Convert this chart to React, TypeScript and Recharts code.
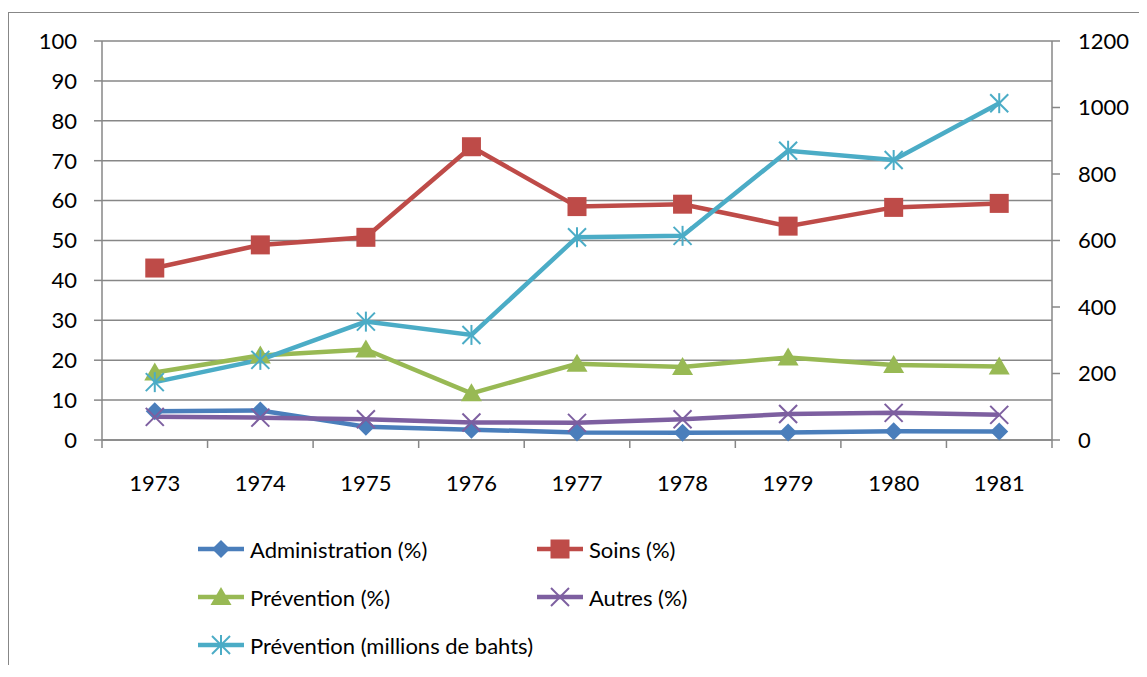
import React from 'react';
import { LineChart, Line, XAxis, YAxis, CartesianGrid, Legend } from 'recharts';

const years = ['1973', '1974', '1975', '1976', '1977', '1978', '1979', '1980', '1981'];
const administration = [7.2, 7.4, 3.3, 2.6, 1.9, 1.8, 1.9, 2.2, 2.1];
const soins = [43.1, 48.9, 50.8, 73.5, 58.5, 59.1, 53.6, 58.3, 59.3];
const preventionPct = [16.9, 21.2, 22.7, 11.7, 19.1, 18.3, 20.7, 18.8, 18.4];
const autres = [5.8, 5.6, 5.2, 4.4, 4.3, 5.2, 6.5, 6.8, 6.3];
const preventionBahts = [174, 241, 356, 316, 610, 614, 870, 842, 1013];

const leftTicks = [0, 10, 20, 30, 40, 50, 60, 70, 80, 90, 100];
const rightTicks = [0, 200, 400, 600, 800, 1000, 1200];

const data = years.map((year, i) => ({
  year,
  administration: administration[i],
  soins: soins[i],
  preventionPct: preventionPct[i],
  autres: autres[i],
  preventionBahts: preventionBahts[i],
}));

const FONT = 'Lato, "Open Sans", sans-serif';
const AXIS_COLOR = '#878787';
const TICK_SIZE = 8;
const X_TICK_MARGIN = 27;
// half of one category slot (plot width 950 / 9 categories / 2)
const HALF_SLOT = 950 / years.length / 2;

type MarkerKind = 'diamond' | 'square' | 'triangle' | 'x' | 'star';

function Marker({ kind, cx, cy, color }: { kind: MarkerKind; cx: number; cy: number; color: string }) {
  if (kind === 'diamond') {
    return <polygon points={`${cx},${cy - 9} ${cx + 9},${cy} ${cx},${cy + 9} ${cx - 9},${cy}`} fill={color} />;
  }
  if (kind === 'square') {
    return <rect x={cx - 9.5} y={cy - 9.5} width={19} height={19} fill={color} />;
  }
  if (kind === 'triangle') {
    return <polygon points={`${cx},${cy - 10} ${cx + 10.5},${cy + 8} ${cx - 10.5},${cy + 8}`} fill={color} />;
  }
  if (kind === 'x') {
    return (
      <g stroke={color} strokeWidth={2}>
        <line x1={cx - 9} y1={cy - 9} x2={cx + 9} y2={cy + 9} />
        <line x1={cx - 9} y1={cy + 9} x2={cx + 9} y2={cy - 9} />
      </g>
    );
  }
  return (
    <g stroke={color} strokeWidth={2}>
      <line x1={cx - 9} y1={cy - 9} x2={cx + 9} y2={cy + 9} />
      <line x1={cx - 9} y1={cy + 9} x2={cx + 9} y2={cy - 9} />
      <line x1={cx} y1={cy - 10} x2={cx} y2={cy + 10} />
    </g>
  );
}

const series: { key: string; name: string; color: string; marker: MarkerKind; axis: string }[] = [
  { key: 'administration', name: 'Administration (%)', color: '#4A7EBB', marker: 'diamond', axis: 'left' },
  { key: 'soins', name: 'Soins (%)', color: '#BE4B48', marker: 'square', axis: 'left' },
  { key: 'preventionPct', name: 'Prévention (%)', color: '#98B954', marker: 'triangle', axis: 'left' },
  { key: 'autres', name: 'Autres (%)', color: '#7D5FA0', marker: 'x', axis: 'left' },
  { key: 'preventionBahts', name: 'Prévention (millions de bahts)', color: '#4BACC6', marker: 'star', axis: 'right' },
];

function XTick(props: any) {
  const { x, y, payload, index } = props;
  const axisY = y - TICK_SIZE - X_TICK_MARGIN;
  return (
    <g>
      <line x1={x - HALF_SLOT} y1={axisY} x2={x - HALF_SLOT} y2={axisY + TICK_SIZE} stroke={AXIS_COLOR} strokeWidth={1.5} />
      {index === years.length - 1 && (
        <line x1={x + HALF_SLOT} y1={axisY} x2={x + HALF_SLOT} y2={axisY + TICK_SIZE} stroke={AXIS_COLOR} strokeWidth={1.5} />
      )}
      <text x={x} y={y} dy="0.71em" textAnchor="middle" fill="#000" fontSize={22} fontFamily={FONT}>
        {payload.value}
      </text>
    </g>
  );
}

function LegendContent() {
  const rows = [[series[0], series[1]], [series[2], series[3]], [series[4]]];
  return (
    <div style={{ height: 169, paddingTop: 25, paddingLeft: 189, boxSizing: 'border-box', fontFamily: FONT }}>
      {rows.map((row, r) => (
        <div key={r} style={{ display: 'flex', height: 48 }}>
          {row.map((s) => (
            <div key={s.key} style={{ width: 339, display: 'flex', alignItems: 'center' }}>
              <svg width={46} height={24} style={{ marginRight: 6 }}>
                <line x1={0} y1={12} x2={46} y2={12} stroke={s.color} strokeWidth={4.5} />
                <Marker kind={s.marker} cx={23} cy={12} color={s.color} />
              </svg>
              <span style={{ fontSize: 22, color: '#000' }}>{s.name}</span>
            </div>
          ))}
        </div>
      ))}
    </div>
  );
}

export default function App() {
  return (
    <div
      style={{
        position: 'relative',
        top: 4,
        width: 1130,
        height: 656,
        borderLeft: `1px solid ${AXIS_COLOR}`,
        borderTop: `1px solid ${AXIS_COLOR}`,
        background: '#fff',
      }}
    >
      <LineChart width={1130} height={656} data={data} margin={{ top: 28, right: 0, left: 0, bottom: 0 }}>
        <CartesianGrid yAxisId="left" vertical={false} stroke={AXIS_COLOR} strokeWidth={1.5} />
        <XAxis
          dataKey="year"
          height={60}
          padding={{ left: HALF_SLOT, right: HALF_SLOT }}
          tickLine={false}
          tickSize={TICK_SIZE}
          tickMargin={X_TICK_MARGIN}
          axisLine={{ stroke: AXIS_COLOR, strokeWidth: 1.5 }}
          tick={<XTick />}
          interval={0}
        />
        <YAxis
          yAxisId="left"
          width={93}
          domain={[0, 100]}
          ticks={leftTicks}
          interval={0}
          tickSize={TICK_SIZE}
          tickMargin={17}
          axisLine={{ stroke: AXIS_COLOR, strokeWidth: 1.5 }}
          tickLine={{ stroke: AXIS_COLOR, strokeWidth: 1.5 }}
          tick={{ fill: '#000', fontSize: 22, fontFamily: FONT }}
        />
        <YAxis
          yAxisId="right"
          orientation="right"
          width={87}
          domain={[0, 1200]}
          ticks={rightTicks}
          interval={0}
          tickSize={TICK_SIZE}
          tickMargin={18}
          axisLine={{ stroke: AXIS_COLOR, strokeWidth: 1.5 }}
          tickLine={{ stroke: AXIS_COLOR, strokeWidth: 1.5 }}
          tick={{ fill: '#000', fontSize: 22, fontFamily: FONT, textAnchor: 'start' }}
        />
        <Legend verticalAlign="bottom" content={<LegendContent />} wrapperStyle={{ left: 0, width: 1130 }} />
        {series.map((s) => (
          <Line
            key={s.key}
            yAxisId={s.axis}
            dataKey={s.key}
            name={s.name}
            stroke={s.color}
            strokeWidth={4.5}
            isAnimationActive={false}
            dot={(p: any) => <Marker key={`${s.key}-${p.index}`} kind={s.marker} cx={p.cx} cy={p.cy} color={s.color} />}
            activeDot={false}
          />
        ))}
      </LineChart>
    </div>
  );
}
